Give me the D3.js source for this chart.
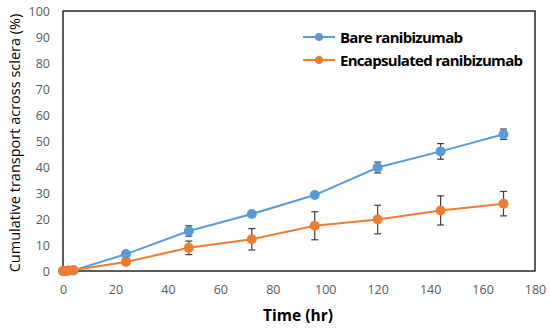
<!DOCTYPE html>
<html><head><meta charset="utf-8">
<script src="https://cdn.jsdelivr.net/npm/d3@7"></script>
<style>body{margin:0;background:#fff}svg{display:block}</style>
</head><body>
<script>
const times = [0, 0.5, 1, 2, 4, 24, 48, 72, 96, 120, 144, 168];
const bareValues = [0, 0, 0, 0.1, 0.2, 6.5, 15.4, 21.9, 29.2, 39.8, 46.0, 52.6];
const bareErrors = [0, 0, 0, 0, 0, 0.8, 2.0, 0.8, 0.8, 2.1, 3.0, 2.0];
const encValues = [0, 0, 0, 0.2, 0.4, 3.5, 8.9, 12.2, 17.4, 19.8, 23.3, 25.9];
const encErrors = [0, 0, 0, 0, 0, 0.5, 2.6, 4.1, 5.4, 5.5, 5.6, 4.7];
const xTicks = [0, 20, 40, 60, 80, 100, 120, 140, 160, 180];
const yTicks = [0, 10, 20, 30, 40, 50, 60, 70, 80, 90, 100];
const seriesNames = ["Bare ranibizumab", "Encapsulated ranibizumab"];
const seriesColors = ["#5B9BD5", "#ED7D31"];

const W = 550, H = 329;
const m = {left: 63, right: 15, top: 11, bottom: 58};
const svg = d3.select("body").append("svg").attr("width", W).attr("height", H);
const x = d3.scaleLinear().domain([0, 180]).range([m.left, W - m.right]);
const y = d3.scaleLinear().domain([0, 100]).range([H - m.bottom, m.top]);

const font = "'Open Sans', sans-serif";

// axes (labels only)
const xAxis = svg.append("g").attr("transform", `translate(0,${H - m.bottom})`)
  .call(d3.axisBottom(x).tickValues(xTicks).tickSize(0).tickPadding(14));
const yAxis = svg.append("g").attr("transform", `translate(${m.left},0)`)
  .call(d3.axisLeft(y).tickValues(yTicks).tickSize(0).tickPadding(13));
[xAxis, yAxis].forEach(g => {
  g.select(".domain").remove();
  g.selectAll("text").attr("fill", "#595959").style("font-family", font).style("font-size", "12.5px");
});

// frame
svg.append("rect").attr("x", x(0)).attr("y", y(100))
  .attr("width", x(180) - x(0)).attr("height", y(0) - y(100))
  .attr("fill", "none").attr("stroke", "#262626").attr("stroke-width", 1.5);

const series = [
  {name: seriesNames[0], color: seriesColors[0], v: bareValues, e: bareErrors},
  {name: seriesNames[1], color: seriesColors[1], v: encValues, e: encErrors}
];

const line = d3.line().x(d => x(d[0])).y(d => y(d[1]));
series.forEach(s => {
  const pts = times.map((t, i) => [t, s.v[i], s.e[i]]);
  svg.append("path").datum(pts).attr("d", line)
    .attr("fill", "none").attr("stroke", s.color).attr("stroke-width", 2);
  const eb = svg.append("g");
  pts.filter(p => p[2] > 0).forEach(p => {
    const cx = x(p[0]), y1 = y(p[1] + p[2]), y2 = y(p[1] - p[2]);
    eb.append("line").attr("x1", cx).attr("x2", cx).attr("y1", y1).attr("y2", y2)
      .attr("stroke", "#404040").attr("stroke-width", 1.2);
    [y1, y2].forEach(yy => eb.append("line").attr("x1", cx - 3.5).attr("x2", cx + 3.5)
      .attr("y1", yy).attr("y2", yy).attr("stroke", "#404040").attr("stroke-width", 1.2));
  });
  svg.append("g").selectAll("circle").data(pts).join("circle")
    .attr("cx", d => x(d[0])).attr("cy", d => y(d[1])).attr("r", 5)
    .attr("fill", s.color);
});

// legend
const legendWidths = [123, 183];
series.forEach((s, i) => {
  const ly = 37 + i * 23;
  svg.append("line").attr("x1", 303).attr("x2", 335).attr("y1", ly).attr("y2", ly)
    .attr("stroke", s.color).attr("stroke-width", 2);
  svg.append("circle").attr("cx", 319).attr("cy", ly).attr("r", 4).attr("fill", s.color);
  svg.append("text").attr("x", 340).attr("y", ly + 5.5)
    .attr("textLength", legendWidths[i]).attr("lengthAdjust", "spacing")
    .attr("fill", "#000").style("font-family", font).style("font-size", "15px")
    .style("font-weight", "bold").text(s.name);
});

// axis titles
svg.append("text").attr("x", 298).attr("y", 321)
  .attr("text-anchor", "middle").style("font-family", font).style("font-size", "15.5px")
  .style("font-weight", "bold").attr("fill", "#000").text("Time (hr)");
svg.append("text").attr("transform", `translate(20,${(y(0) + y(100)) / 2 + 2}) rotate(-90)`)
  .attr("text-anchor", "middle").style("font-family", font).style("font-size", "14.5px")
  .attr("fill", "#000").text("Cumulative transport across sclera (%)");
</script>
</body></html>
